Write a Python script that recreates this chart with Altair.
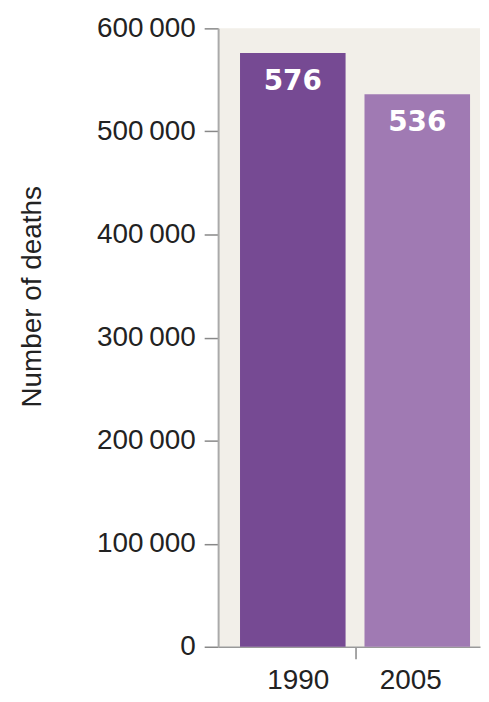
import altair as alt
import pandas as pd

years = ["1990", "2005"]
deaths = [576000, 536000]
bar_colors = ["#764a93", "#a07ab3"]
y_ticks = [0, 100000, 200000, 300000, 400000, 500000, 600000]

df = pd.DataFrame({"year": years, "deaths": deaths})

font = "Liberation Sans, Arial, Helvetica, sans-serif"
THIN = "\u2009"

x = alt.X(
    "year:N",
    title=None,
    scale=alt.Scale(paddingInner=0.152, paddingOuter=0.128, align=0.6875),
    axis=alt.Axis(
        labelAngle=0,
        labelFont=font,
        labelFontSize=28,
        labelColor="#222222",
        labelPadding=8,
        tickSize=12,
        tickWidth=1.5,
        tickColor={"condition": {"test": "datum.value === '1990'", "value": "#888888"}, "value": "transparent"},
        bandPosition=1,
        tickExtra=False,
        tickOffset=9.5,
        labelOffset={"condition": {"test": "datum.value === '1990'", "value": -4.5}, "value": -16.5},
        domainColor="#999999",
        domainWidth=1.5,
    ),
)

y = alt.Y(
    "deaths:Q",
    title="Number of deaths",
    scale=alt.Scale(domain=[0, 600000]),
    axis=alt.Axis(
        values=y_ticks,
        labelExpr="replace(format(datum.value, ','), ',', '" + THIN + "')",
        labelFont=font,
        labelFontSize=28,
        labelColor="#222222",
        labelPadding=9,
        tickSize=14,
        tickWidth=1.5,
        tickColor="#888888",
        domainColor="#aaaaaa",
        domainWidth=2,
        grid=False,
        titleFont=font,
        titleFontSize=28,
        titleFontWeight="normal",
        titleColor="#222222",
        titlePadding=50,
        titleY=269,
    ),
)

base = alt.Chart(df)

bars = base.mark_bar().encode(
    x=x,
    y=y,
    color=alt.Color("year:N", scale=alt.Scale(domain=years, range=bar_colors), legend=None),
)

labels = base.transform_calculate(
    label="format(datum.deaths / 1000, 'd')"
).mark_text(
    font="DejaVu Sans",
    fontWeight="bold",
    fontSize=28,
    color="white",
    baseline="alphabetic",
    dy=37,
).encode(x="year:N", y="deaths:Q", text="label:N")

chart = (
    alt.layer(bars, labels)
    .properties(width=263, height=621, padding={"left": 10, "top": 5, "right": 0, "bottom": 0})
    .configure_view(fill="#f2efe9", stroke=None)
)

chart.save("out.html", embed_options={"renderer": "svg", "actions": False})
